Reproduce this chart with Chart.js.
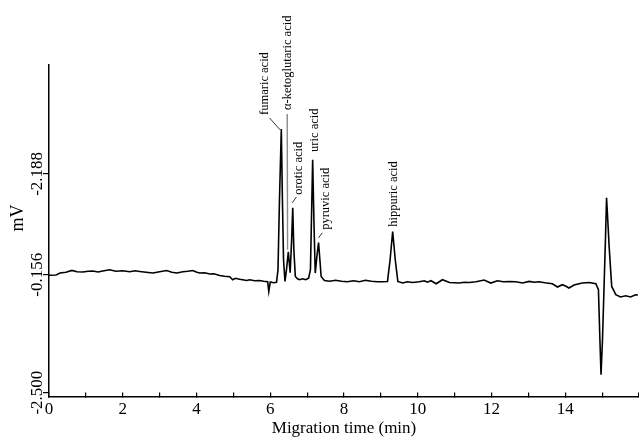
<!DOCTYPE html>
<html>
<head>
<meta charset="utf-8">
<script src="https://cdn.jsdelivr.net/npm/chart.js@4"></script>
<style>
  html, body { margin: 0; padding: 0; background: #fff; }
  canvas { display: block; }
</style>
</head>
<body>
<canvas id="ephChart" width="639" height="439"></canvas>
<script>
// --- 資料區 ---
// 遷移時間 (min)
const timeMin = [0.00,0.19,0.30,0.46,0.62,0.76,0.92,1.06,1.19,1.33,1.49,1.65,1.81,2.00,2.19,2.33,2.46,2.63,2.82,3.00,
  3.19,3.33,3.47,3.63,3.76,3.90,4.01,4.09,4.22,4.36,4.47,4.63,4.76,4.90,4.98,5.06,5.17,5.25,5.36,5.44,
  5.58,5.71,5.82,5.93,5.96,6.00,6.09,6.17,6.21,6.25,6.30,6.33,6.36,6.40,6.44,6.49,6.54,6.58,6.61,6.64,
  6.68,6.74,6.79,6.88,6.96,7.04,7.09,7.15,7.19,7.22,7.27,7.31,7.35,7.38,7.47,7.61,7.77,7.93,8.09,8.26,
  8.42,8.58,8.74,8.91,9.04,9.18,9.25,9.32,9.39,9.46,9.59,9.72,9.86,10.04,10.18,10.26,10.36,10.50,10.67,10.86,
  10.99,11.13,11.26,11.40,11.58,11.80,11.98,12.16,12.32,12.48,12.66,12.84,13.02,13.16,13.29,13.45,13.65,13.79,13.92,14.02,
  14.10,14.24,14.46,14.65,14.83,14.90,14.94,14.97,15.01,15.05,15.09,15.12,15.16,15.19,15.26,15.37,15.50,15.64,15.77,15.91,
  15.97];
// 訊號 (任意單位, 基線約 0)
const signal = [-0.005,-0.003,0.017,0.025,0.043,0.030,0.027,0.035,0.037,0.027,0.040,0.050,0.035,0.040,0.030,0.040,0.033,0.025,0.017,0.030,
  0.043,0.025,0.017,0.030,0.035,0.043,0.025,0.017,0.020,0.007,0.010,-0.007,-0.015,-0.020,-0.050,-0.035,-0.045,-0.050,-0.057,-0.050,
  -0.060,-0.057,-0.065,-0.070,-0.167,-0.073,-0.080,-0.075,0.050,0.750,1.460,0.750,0.150,-0.067,0.050,0.230,0.020,0.350,0.670,0.250,
  -0.017,-0.040,-0.050,-0.040,-0.050,-0.035,0.050,1.150,0.450,0.017,0.200,0.323,0.130,-0.017,-0.057,-0.065,-0.055,-0.065,-0.070,-0.060,
  -0.070,-0.055,-0.065,-0.070,-0.070,-0.067,0.150,0.433,0.150,-0.067,-0.083,-0.070,-0.077,-0.070,-0.060,-0.075,-0.060,-0.090,-0.050,-0.077,
  -0.080,-0.083,-0.075,-0.077,-0.070,-0.053,-0.083,-0.060,-0.070,-0.067,-0.070,-0.083,-0.067,-0.075,-0.070,-0.080,-0.090,-0.123,-0.100,-0.115,
  -0.133,-0.103,-0.083,-0.077,-0.090,-0.150,-0.650,-1.000,-0.650,-0.150,0.350,0.770,0.500,0.283,-0.117,-0.200,-0.223,-0.210,-0.223,-0.200,
  -0.203];

// Y 軸刻度位置與原圖上的標籤
const yTickValues = [-1.18, 0, 1.01];
const yTickLabels = ['-2.500', '-0.156', '-2.188'];

// 峰標註: 文字, 文字底端 (x, y), 引線 (x1, y1) -> (x2, y2)
const peakNames = ['fumaric acid', 'α-ketoglutaric acid', 'orotic acid', 'uric acid', 'pyruvic acid', 'hippuric acid'];
const peakTextPos = [[5.85, 1.60], [6.48, 1.65], [6.78, 0.80], [7.20, 1.23], [7.50, 0.45], [9.34, 0.48]];
const peakLeaders = [
    [5.98, 1.57, 6.27, 1.45],
    [6.46, 1.61, 6.47, 0.25],
    [6.71, 0.78, 6.60, 0.72],
    null,
    [7.41, 0.42, 7.31, 0.37],
    null
];

const SERIF = '"Liberation Serif", "DejaVu Serif", serif';

// --- 外掛: Y 軸標題與直排刻度文字 + 峰標註 ---
const annotatePlugin = {
    id: 'annotate',
    afterDraw(chart) {
        const { ctx, scales: { x, y } } = chart;
        ctx.save();
        ctx.fillStyle = '#000';
        ctx.textAlign = 'center';
        ctx.textBaseline = 'middle';

        const vText = (txt, px, py) => {
            ctx.save();
            ctx.translate(px, py);
            ctx.rotate(-Math.PI / 2);
            ctx.fillText(txt, 0, 0);
            ctx.restore();
        };

        // y 軸標題
        ctx.font = `18px ${SERIF}`;
        vText('mV', 18, 218);

        // y 軸刻度文字 (旋轉 90 度)
        ctx.font = `17px ${SERIF}`;
        yTickValues.forEach((v, i) => vText(yTickLabels[i], x.left - 11, y.getPixelForValue(v)));

        // 峰名稱
        ctx.font = `12.5px ${SERIF}`;
        ctx.textAlign = 'left';
        peakNames.forEach((name, i) => {
            const [tx, ty] = peakTextPos[i];
            vText(name, x.getPixelForValue(tx), y.getPixelForValue(ty));

            const ld = peakLeaders[i];
            if (!ld) return;
            ctx.beginPath();
            ctx.strokeStyle = i === 1 ? '#8a8a8a' : '#000';
            ctx.lineWidth = i === 1 ? 1.4 : 0.8;
            ctx.moveTo(x.getPixelForValue(ld[0]), y.getPixelForValue(ld[1]));
            ctx.lineTo(x.getPixelForValue(ld[2]), y.getPixelForValue(ld[3]));
            ctx.stroke();
        });
        ctx.restore();
    }
};

const ctx = document.getElementById('ephChart').getContext('2d');
new Chart(ctx, {
    type: 'line',
    data: {
        datasets: [{
            data: timeMin.map((t, i) => ({ x: t, y: signal[i] })),
            borderColor: '#000',
            borderWidth: 1.6,
            pointRadius: 0,
            tension: 0,
            fill: false
        }]
    },
    options: {
        responsive: false,
        animation: false,
        devicePixelRatio: 1,
        layout: { padding: { top: 65, left: 43, right: 0, bottom: 0 } },
        plugins: { legend: { display: false }, tooltip: { enabled: false } },
        scales: {
            x: {
                type: 'linear',
                min: 0, max: 16,
                border: { color: '#000', width: 1.5 },
                grid: { drawOnChartArea: false, tickLength: -4, color: '#000', lineWidth: 1.2 },
                ticks: {
                    stepSize: 1, autoSkip: false, maxRotation: 0, padding: 7,
                    color: '#000', font: { family: SERIF, size: 17 },
                    callback: v => (v % 2 === 0 && v < 16) ? v : ''
                },
                title: {
                    display: true, text: 'Migration time (min)', color: '#000',
                    font: { family: SERIF, size: 17, lineHeight: 1.0 },
                    padding: { top: -7, bottom: 2 }
                },
                afterFit: scale => { scale.paddingRight = 0; }
            },
            y: {
                min: -1.22, max: 2.10,
                border: { color: '#000', width: 1.5 },
                grid: { drawOnChartArea: false, tickLength: 6, color: '#000', lineWidth: 1.2 },
                afterBuildTicks: scale => { scale.ticks = yTickValues.map(v => ({ value: v })); },
                ticks: { display: false },
                title: { display: false }
            }
        }
    },
    plugins: [annotatePlugin]
});
</script>
</body>
</html>
